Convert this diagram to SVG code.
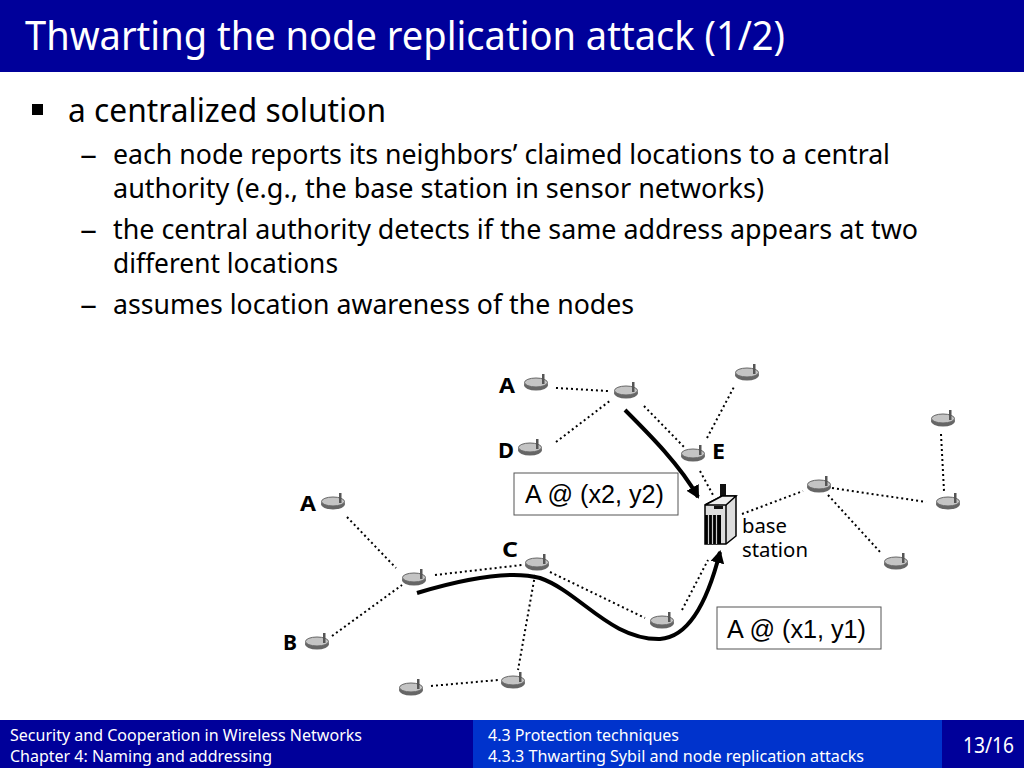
<svg xmlns="http://www.w3.org/2000/svg" width="1024" height="768" viewBox="0 0 1024 768">
<style>
text{font-family:"Noto Sans","DejaVu Sans",sans-serif;fill:#000}
.h{fill:#fff}
.l1{font-size:33px}
.l2{font-size:28px}
.f{fill:#fff;font-size:16.500px}
.lb{font-size:22px;font-weight:bold}
.st{font-size:20px}
.bx{font-family:"Liberation Sans",sans-serif;font-size:25px}
.d{fill:none;stroke:#000;stroke-width:2;stroke-dasharray:2 3}
.c{fill:none;stroke:#000;stroke-width:4}
</style>
<defs>
<g id="sensor">
<ellipse cx="0" cy="3" rx="12" ry="5.500" fill="#666"/>
<ellipse cx="0" cy="0.500" rx="11.500" ry="4.500" fill="#c4c4c4" stroke="#666" stroke-width="1"/>
<rect x="6" y="-8" width="2.500" height="10" fill="#555"/>
</g>
<marker id="ah" markerUnits="userSpaceOnUse" markerWidth="14" markerHeight="16" refX="11" refY="7" orient="auto"><path d="M0 0L13 7L0 14Z" fill="#000"/></marker>
</defs>

<g id="header">
<rect x="0" y="0" width="1024" height="72" fill="#00009a"/>
<text class="h" x="25" y="50" font-size="40" textLength="760" lengthAdjust="spacingAndGlyphs">Thwarting the node replication attack (1/2)</text>
</g>

<g id="body">
<rect x="32" y="104" width="11" height="11" fill="#000"/>
<text class="l1" x="68" y="122" textLength="318" lengthAdjust="spacingAndGlyphs">a centralized solution</text>
<text class="l2" x="80" y="164" textLength="17" lengthAdjust="spacingAndGlyphs">–</text>
<text class="l2" x="113" y="164" textLength="777" lengthAdjust="spacingAndGlyphs">each node reports its neighbors’ claimed locations to a central</text>
<text class="l2" x="113" y="198" textLength="651" lengthAdjust="spacingAndGlyphs">authority (e.g., the base station in sensor networks)</text>
<text class="l2" x="80" y="239" textLength="17" lengthAdjust="spacingAndGlyphs">–</text>
<text class="l2" x="113" y="239" textLength="805" lengthAdjust="spacingAndGlyphs">the central authority detects if the same address appears at two</text>
<text class="l2" x="113" y="273" textLength="225" lengthAdjust="spacingAndGlyphs">different locations</text>
<text class="l2" x="80" y="314" textLength="17" lengthAdjust="spacingAndGlyphs">–</text>
<text class="l2" x="113" y="314" textLength="521" lengthAdjust="spacingAndGlyphs">assumes location awareness of the nodes</text>
</g>

<g id="connectors">
<path class="d" d="M556 388L608 391"/>
<path class="d" d="M556 442L611 400"/>
<path class="d" d="M644 406L684 447"/>
<path class="d" d="M707 438L735 385"/>
<path class="d" d="M700 471L713 495"/>
<path class="d" d="M742 514L803 491"/>
<path class="d" d="M832 488L926 502"/>
<path class="d" d="M828 495L881 553"/>
<path class="d" d="M941 434L944 491"/>
<path class="d" d="M347 517L396 568"/>
<path class="d" d="M332 636L402 585"/>
<path class="d" d="M435 575L522 565"/>
<path class="d" d="M550 572L645 618"/>
<path class="d" d="M535 575L518 670"/>
<path class="d" d="M431 686L498 680"/>
<path class="d" d="M682 610L708 560"/>
<path class="c" marker-end="url(#ah)" d="M625 410C650 435 680 465 698 497"/>
<path class="c" marker-end="url(#ah)" d="M417 593C460 580 510 570 540 578C580 592 610 640 660 639C690 637 708 600 720 552"/>
</g>

<g id="node-a1"><use href="#sensor" x="536" y="382"/><text class="lb" x="499" y="393" textLength="16" lengthAdjust="spacingAndGlyphs">A</text></g>
<g id="node-n2"><use href="#sensor" x="626" y="390"/></g>
<g id="node-d"><use href="#sensor" x="530" y="447"/><text class="lb" x="498" y="458" textLength="16" lengthAdjust="spacingAndGlyphs">D</text></g>
<g id="node-e"><use href="#sensor" x="693" y="453"/><text class="lb" x="712" y="459" textLength="13" lengthAdjust="spacingAndGlyphs">E</text></g>
<g id="node-n5"><use href="#sensor" x="747" y="372"/></g>
<g id="node-n6"><use href="#sensor" x="943" y="418"/></g>
<g id="node-n7"><use href="#sensor" x="819" y="484"/></g>
<g id="node-n8"><use href="#sensor" x="948" y="501"/></g>
<g id="node-n9"><use href="#sensor" x="896" y="561"/></g>
<g id="node-a2"><use href="#sensor" x="333" y="501"/><text class="lb" x="300" y="511" textLength="16" lengthAdjust="spacingAndGlyphs">A</text></g>
<g id="node-n11"><use href="#sensor" x="414" y="577"/></g>
<g id="node-c"><use href="#sensor" x="537" y="562"/><text class="lb" x="502" y="557" textLength="16" lengthAdjust="spacingAndGlyphs">C</text></g>
<g id="node-b"><use href="#sensor" x="317" y="641"/><text class="lb" x="283" y="650" textLength="14" lengthAdjust="spacingAndGlyphs">B</text></g>
<g id="node-n14"><use href="#sensor" x="662" y="620"/></g>
<g id="node-n15"><use href="#sensor" x="411" y="687"/></g>
<g id="node-n16"><use href="#sensor" x="513" y="680"/></g>

<g id="base-station">
<rect x="720" y="484" width="6" height="13" fill="#111"/>
<path d="M705 505L722 496L736 496L736 536L726 544L705 544Z" fill="#ddd" stroke="#000" stroke-width="1.500"/>
<path d="M705 505L722 496L736 496L726 505Z" fill="#eee" stroke="#000" stroke-width="1.500"/>
<path d="M726 505L726 544" stroke="#000" stroke-width="1.500" fill="none"/>
<rect x="705" y="515" width="16" height="29" fill="#000"/>
<path d="M708.500 515V544M712.500 515V544M716.500 515V544" stroke="#ccc" stroke-width="1.200"/>
<rect x="714" y="506" width="9" height="3" fill="#111"/>
<text class="st" x="742" y="533" textLength="45" lengthAdjust="spacingAndGlyphs">base</text>
<text class="st" x="742" y="557" textLength="66" lengthAdjust="spacingAndGlyphs">station</text>
</g>

<g id="label-x2">
<rect x="514" y="473" width="164" height="42" fill="#fff" stroke="#555" stroke-width="1"/>
<text class="bx" x="525" y="503" textLength="139" lengthAdjust="spacingAndGlyphs">A @ (x2, y2)</text>
</g>
<g id="label-x1">
<rect x="717" y="607" width="164" height="42" fill="#fff" stroke="#555" stroke-width="1"/>
<text class="bx" x="727" y="638" textLength="139" lengthAdjust="spacingAndGlyphs">A @ (x1, y1)</text>
</g>

<g id="footer">
<rect x="0" y="720" width="1024" height="48" fill="#00009a"/>
<rect x="473" y="720" width="469" height="48" fill="#0033cc"/>
<text class="f" x="10" y="741" textLength="352" lengthAdjust="spacingAndGlyphs">Security and Cooperation in Wireless Networks</text>
<text class="f" x="10" y="762" textLength="262" lengthAdjust="spacingAndGlyphs">Chapter 4: Naming and addressing</text>
<text class="f" x="488" y="741" textLength="191" lengthAdjust="spacingAndGlyphs">4.3 Protection techniques</text>
<text class="f" x="488" y="762" textLength="376" lengthAdjust="spacingAndGlyphs">4.3.3 Thwarting Sybil and node replication attacks</text>
<text class="f" x="963" y="753" style="font-size:21px" textLength="51" lengthAdjust="spacingAndGlyphs">13/16</text>
</g>
</svg>
